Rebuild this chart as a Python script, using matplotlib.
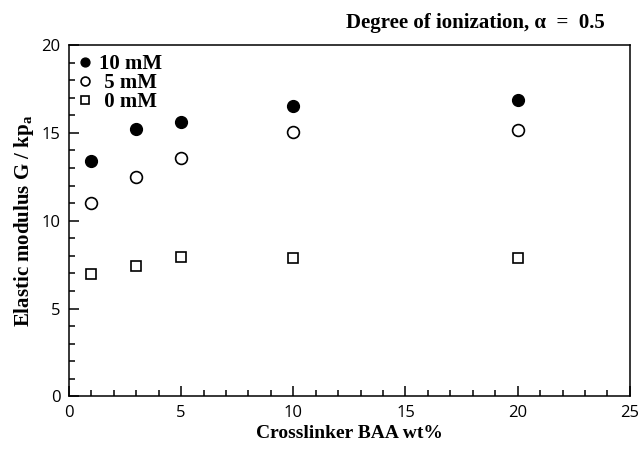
import matplotlib
matplotlib.use('Agg')
import matplotlib.pyplot as plt
from matplotlib.ticker import MultipleLocator

# Data
baa = [1, 3, 5, 10, 20]
g_10mM = [13.4, 15.25, 15.6, 16.55, 16.9]
g_5mM = [11.0, 12.5, 13.6, 15.05, 15.15]
g_0mM = [6.95, 7.45, 7.95, 7.9, 7.9]

serif = 'Liberation Serif'
plt.rcParams['mathtext.fontset'] = 'custom'
plt.rcParams['mathtext.rm'] = 'Liberation Serif:bold'
plt.rcParams['mathtext.bf'] = 'Liberation Serif:bold'

fig = plt.figure(figsize=(6.41, 4.57), dpi=100)
ax = fig.add_axes([0.1076, 0.1324, 0.875, 0.769])

ax.plot(baa, g_10mM, 'o', color='black', markersize=8.5, label='10 mM')
ax.plot(baa, g_5mM, 'o', mfc='white', mec='black', mew=1.2, markersize=8.5, label=' 5 mM')
ax.plot(baa, g_0mM, 's', mfc='white', mec='black', mew=1.2, markersize=7.5, label=' 0 mM')

ax.set_xlim(0, 25)
ax.set_ylim(0, 20)
ax.xaxis.set_major_locator(MultipleLocator(5))
ax.xaxis.set_minor_locator(MultipleLocator(1))
ax.yaxis.set_major_locator(MultipleLocator(5))
ax.yaxis.set_minor_locator(MultipleLocator(1))
ax.tick_params(which='both', direction='in', top=False, right=False, width=1.1)
ax.tick_params(which='major', length=7, labelsize=12, pad=6)
ax.tick_params(which='minor', length=4)
for lab in ax.get_xticklabels() + ax.get_yticklabels():
    lab.set_family('Open Sans')
for sp in ax.spines.values():
    sp.set_linewidth(1.1)

ax.set_xlabel('Crosslinker BAA wt%', family=serif, weight='bold', fontsize=14, labelpad=3)
ax.set_ylabel(r'Elastic modulus G / kp$_\mathrm{a}$', family=serif, weight='bold', fontsize=15, labelpad=4)

fig.text(0.944, 0.95, 'Degree of ionization, α  =  0.5', family=serif, weight='bold',
         fontsize=15, ha='right', va='center')

# tight legend block in the upper left corner
leg = ax.legend(loc='upper left', frameon=False, prop={'family': serif, 'weight': 'bold', 'size': 15},
                markerscale=0.75, handlelength=0.6, handletextpad=0.4, labelspacing=-0.05,
                borderaxespad=0.3, borderpad=0.15)

fig.savefig('out.png', dpi=100)
